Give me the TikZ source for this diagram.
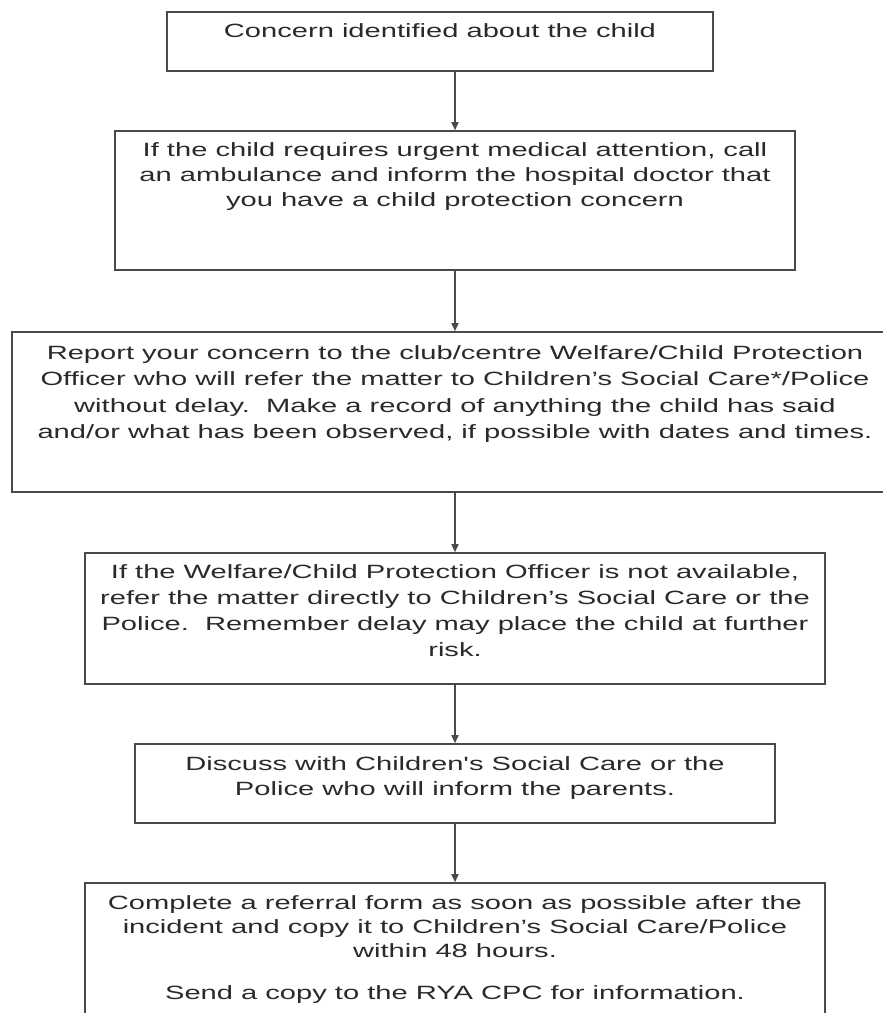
\documentclass[tikz,border=0pt]{standalone}
\usepackage{fontspec}
\setmainfont{Liberation Sans}
\usepackage{graphicx}
\usetikzlibrary{arrows.meta}
\definecolor{linegray}{HTML}{4A4A4A}
\definecolor{textgray}{HTML}{2A2A2A}
\newcommand{\wtxt}[1]{\scalebox{1.516}[1]{\begin{tabular}{@{}c@{}}#1\end{tabular}}}
\begin{document}
\begin{tikzpicture}[x=1pt,y=-1pt,
  box/.style={draw=linegray, line width=1.6pt, rectangle, inner sep=0pt},
  txt/.style={inner sep=0pt, anchor=north, text=textgray, font=\fontsize{19.2}{26}\selectfont},
  arr/.style={draw=linegray, line width=1.6pt, -{Triangle[length=8pt,width=7pt]}}]
\useasboundingbox (0,0) rectangle (883,1013);
\fill[white] (0,0) rectangle (883,1013);
\clip (0,0) rectangle (883,1013);
% boxes
\node[box, minimum width=546pt, minimum height=59pt]  (b1) at (440,41.5) {};
\node[box, minimum width=680pt, minimum height=139pt] (b2) at (455,200.5) {};
\node[box, minimum width=886pt, minimum height=160pt] (b3) at (455,412) {};
\node[box, minimum width=740pt, minimum height=131pt] (b4) at (455,618.5) {};
\node[box, minimum width=640pt, minimum height=79pt]  (b5) at (455,783.5) {};
\node[box, minimum width=740pt, minimum height=177pt] (b6) at (455,971.5) {};
% texts
\node[txt] (t1) at ([yshift=-8pt]b1.north) {\wtxt{Concern identified about the child}};
\node[txt, font=\fontsize{19.2}{25}\selectfont] (t2) at ([yshift=-9pt]b2.north) {\wtxt{If the child requires urgent medical attention, call\\an ambulance and inform the hospital doctor that\\you have a child protection concern}};
\node[txt, font=\fontsize{19.2}{26.5}\selectfont] (t3) at ([yshift=-9.5pt]b3.north) {\wtxt{Report your concern to the club/centre Welfare/Child Protection\\Officer who will refer the matter to Children’s Social Care*/Police\\without delay.\ \ Make a record of anything the child has said\\and/or what has been observed, if possible with dates and times.}};
\node[txt] (t4) at ([yshift=-8pt]b4.north) {\wtxt{If the Welfare/Child Protection Officer is not available,\\refer the matter directly to Children’s Social Care or the\\Police.\ \ Remember delay may place the child at further\\risk.}};
\node[txt, font=\fontsize{19.2}{25}\selectfont] (t5) at ([yshift=-9.5pt]b5.north) {\wtxt{Discuss with Children\textquotesingle s Social Care or the\\Police who will inform the parents.}};
\node[txt, font=\fontsize{19.2}{24}\selectfont] (t6) at ([yshift=-10.5pt]b6.north) {\wtxt{Complete a referral form as soon as possible after the\\incident and copy it to Children’s Social Care/Police\\within 48 hours.\\[18pt]Send a copy to the RYA CPC for information.}};
% arrows
\draw[arr] (b1.south -| b2.north) -- (b2.north);
\draw[arr] (b2.south) -- (b3.north);
\draw[arr] (b3.south) -- (b4.north);
\draw[arr] (b4.south) -- (b5.north);
\draw[arr] (b5.south) -- (b6.north);
\end{tikzpicture}
\end{document}
